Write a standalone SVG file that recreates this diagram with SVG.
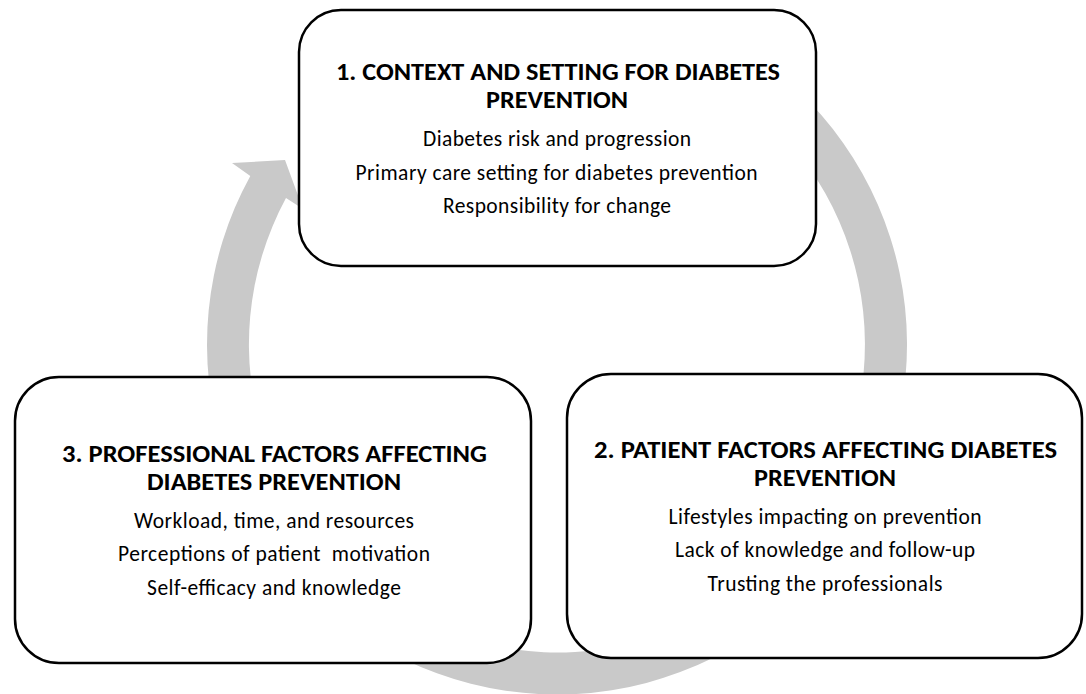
<svg xmlns="http://www.w3.org/2000/svg" width="1086" height="694" viewBox="0 0 1086 694">
<style>
.box{fill:#ffffff;stroke:#000000;stroke-width:2.5}
.ring{fill:#c9c9c9;stroke:none}
.t{font-family:Carlito,Lato,"Liberation Sans",sans-serif;font-weight:bold;font-size:23.3px;fill:#000;text-anchor:middle}
.b{font-family:Carlito,Lato,"Liberation Sans",sans-serif;font-size:21.5px;fill:#000;text-anchor:middle}
</style>
<g id="connectors">
<path class="ring" d="M676.7,15.6 A350,350 0 1 1 250.3,175.9 L232,163 L285,160 L303,209 L286,198 A308,308 0 1 0 662.3,55.1 Z"/>
</g>
<g id="node1">
<rect class="box" x="299" y="10" width="517" height="256" rx="42" ry="42"/>
<text class="t" x="558" y="80" textLength="444" lengthAdjust="spacingAndGlyphs">1. CONTEXT AND SETTING FOR DIABETES</text>
<text class="t" x="557" y="108" textLength="142" lengthAdjust="spacingAndGlyphs">PREVENTION</text>
<text class="b" x="557" y="146" textLength="268" lengthAdjust="spacing">Diabetes risk and progression</text>
<text class="b" x="556.5" y="179.5" textLength="402" lengthAdjust="spacing">Primary care setting for diabetes prevention</text>
<text class="b" x="557" y="213" textLength="228" lengthAdjust="spacing">Responsibility for change</text>
</g>
<g id="node2">
<rect class="box" x="567" y="374" width="515" height="284" rx="44" ry="44"/>
<text class="t" x="825.5" y="458" textLength="463" lengthAdjust="spacingAndGlyphs">2. PATIENT FACTORS AFFECTING DIABETES</text>
<text class="t" x="825" y="486" textLength="142" lengthAdjust="spacingAndGlyphs">PREVENTION</text>
<text class="b" x="825" y="523.5" textLength="313" lengthAdjust="spacing">Lifestyles impacting on prevention</text>
<text class="b" x="825" y="557" textLength="300" lengthAdjust="spacing">Lack of knowledge and follow-up</text>
<text class="b" x="825" y="590.5" textLength="235" lengthAdjust="spacing">Trusting the professionals</text>
</g>
<g id="node3">
<rect class="box" x="15" y="377" width="516" height="286" rx="44" ry="44"/>
<text class="t" x="274.5" y="461.5" textLength="425" lengthAdjust="spacingAndGlyphs">3. PROFESSIONAL FACTORS AFFECTING</text>
<text class="t" x="274" y="489.5" textLength="254" lengthAdjust="spacingAndGlyphs">DIABETES PREVENTION</text>
<text class="b" x="274" y="527.5" textLength="280" lengthAdjust="spacing">Workload, time, and resources</text>
<text class="b" x="274" y="561" textLength="312" lengthAdjust="spacing" style="white-space:pre">Perceptions of patient  motivation</text>
<text class="b" x="274" y="594.5" textLength="254" lengthAdjust="spacing">Self-efficacy and knowledge</text>
</g>
</svg>
